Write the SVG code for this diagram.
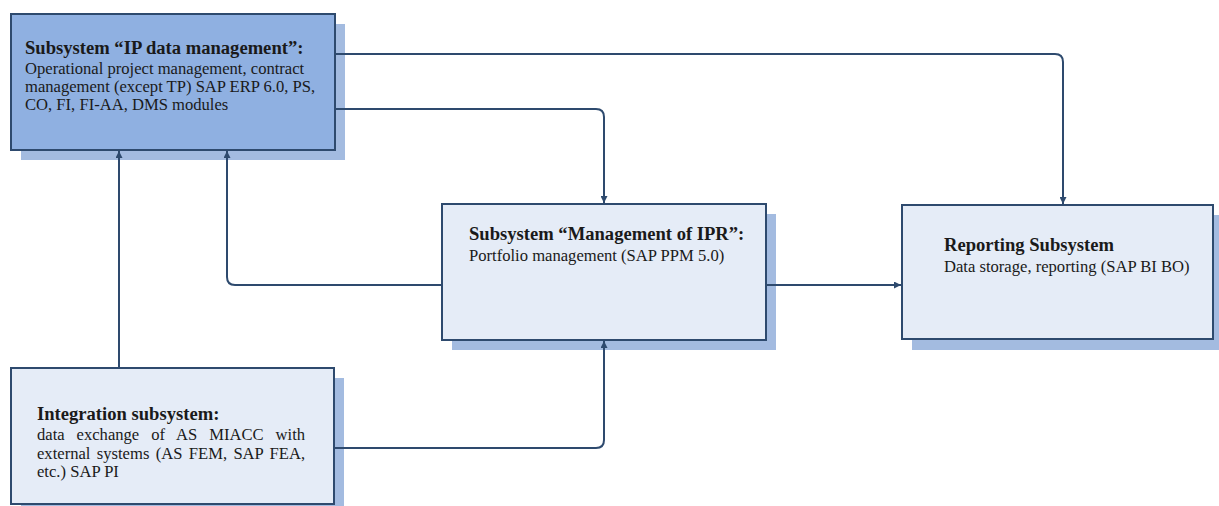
<svg xmlns="http://www.w3.org/2000/svg" width="1219" height="506" viewBox="0 0 1219 506">
<style>
.box{stroke:#2e4a6e;stroke-width:2}
.light{fill:#e5ecf7}
.dark{fill:#8fb0e1}
.sh{fill:#a3bbe0}
.t{font-family:"Liberation Serif","Times New Roman",serif;font-size:16.6px;fill:#1a1a1a}
.b{font-weight:bold;font-size:18.6px}
.c{fill:none;stroke:#2e4a6e;stroke-width:2}
</style>
<defs>
<marker id="ah" viewBox="0 0 10 10" refX="10" refY="5" markerWidth="7" markerHeight="7" markerUnits="userSpaceOnUse" orient="auto">
<path d="M0,0 L10,5 L0,10 z" fill="#2e4a6e"/>
</marker>
</defs>
<rect width="1219" height="506" fill="#ffffff"/>
<g id="node-ip-data">
<rect class="sh" x="21" y="24" width="324" height="136"/>
<rect class="box dark" x="11" y="14" width="324" height="136"/>
<text class="t b" x="25" y="54">Subsystem “IP data management”:</text>
<text class="t" x="25" y="74">Operational project management, contract</text>
<text class="t" x="25" y="92">management (except TP) SAP ERP 6.0, PS,</text>
<text class="t" x="25" y="110">CO, FI, FI-AA, DMS modules</text>
</g>
<g id="node-ipr">
<rect class="sh" x="452" y="214" width="324" height="136"/>
<rect class="box light" x="442" y="204" width="324" height="136"/>
<text class="t b" x="469" y="240">Subsystem “Management of IPR”:</text>
<text class="t" x="469" y="261">Portfolio management (SAP PPM 5.0)</text>
</g>
<g id="node-reporting">
<rect class="sh" x="912" y="215" width="320" height="135"/>
<rect class="box light" x="902" y="205" width="311" height="134"/>
<text class="t b" x="944" y="251">Reporting Subsystem</text>
<text class="t" x="944" y="272">Data storage, reporting (SAP BI BO)</text>
</g>
<g id="node-integration">
<rect class="sh" x="21" y="378" width="323" height="140"/>
<rect class="box light" x="11" y="368" width="323" height="136"/>
<text class="t b" x="37" y="420">Integration subsystem:</text>
<text class="t" x="37" y="440" word-spacing="7.8">data exchange of AS MIACC with</text>
<text class="t" x="37" y="459" word-spacing="2.2">external systems (AS FEM, SAP FEA,</text>
<text class="t" x="37" y="477">etc.) SAP PI</text>
</g>
<g id="connectors">
<path class="c" d="M335,54 H1055 Q1063,54 1063,62 V204" marker-end="url(#ah)"/>
<path class="c" d="M335,109 H596 Q604,109 604,117 V203" marker-end="url(#ah)"/>
<path class="c" d="M442,285 H235 Q227,285 227,277 V151" marker-end="url(#ah)"/>
<path class="c" d="M119,367 V151" marker-end="url(#ah)"/>
<path class="c" d="M334,448 H596 Q604,448 604,440 V341" marker-end="url(#ah)"/>
<path class="c" d="M766,285 H901" marker-end="url(#ah)"/>
</g>
</svg>
